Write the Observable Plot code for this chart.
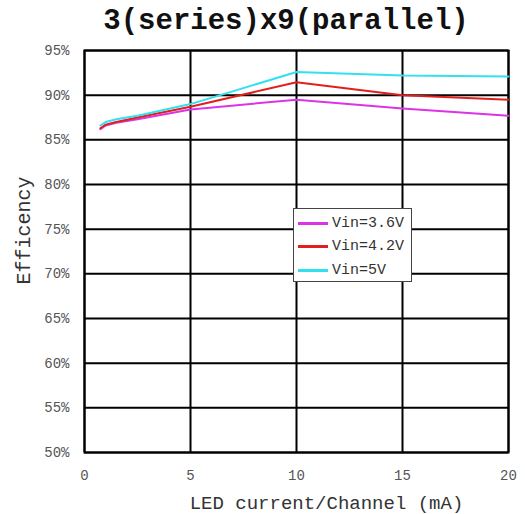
<!DOCTYPE html>
<html>
<head>
<meta charset="utf-8">
<script src="https://cdn.jsdelivr.net/npm/d3@7"></script>
<script src="https://cdn.jsdelivr.net/npm/@observablehq/plot@0.6"></script>
<style>
  html, body { margin: 0; padding: 0; background: #fff; }
  #wrap { position: relative; width: 525px; height: 514px; font-family: "Liberation Mono", "DejaVu Sans Mono", monospace; }
  #title { height: 40px; padding-top: 3px; line-height: 37px; font-size: 29px; font-weight: bold; color: #111; text-align: center; padding-left: 47px; box-sizing: border-box; width: 525px; white-space: nowrap; }
  #legend { position: absolute; left: 293px; top: 208px; width: 119px; height: 74px; border: 1.5px solid #444; background: #fff; box-sizing: border-box; }
  .item { position: absolute; left: 4px; height: 16px; display: flex; align-items: center; font-size: 15px; color: #333; white-space: nowrap; }
  .sw { width: 30px; height: 3px; margin-right: 4px; }
</style>
</head>
<body>
<div id="wrap">
  <div id="title">3(series)x9(parallel)</div>
  <div id="chart"></div>
  <div id="legend"></div>
</div>
<script>
const current = [0.75, 1, 1.5, 2.5, 5, 10, 15, 20];
const vin36 = [86.2, 86.6, 86.9, 87.3, 88.4, 89.5, 88.5, 87.7];
const vin42 = [86.3, 86.7, 87.0, 87.5, 88.7, 91.45, 90.0, 89.5];
const vin50 = [86.6, 87.0, 87.3, 87.7, 89.0, 92.6, 92.2, 92.1];
const seriesNames = ["Vin=3.6V", "Vin=4.2V", "Vin=5V"];
const seriesColors = ["#dd33e6", "#e0201c", "#33e0ee"];
const xTicks = [0, 5, 10, 15, 20];
const yTicks = [50, 55, 60, 65, 70, 75, 80, 85, 90, 95];

const seriesValues = [vin36, vin42, vin50];
const data = [];
seriesNames.forEach((name, i) => {
  current.forEach((c, j) => data.push({series: name, x: c, y: seriesValues[i][j]}));
});

const font = "Liberation Mono, DejaVu Sans Mono, monospace";

const chart = Plot.plot({
  width: 525,
  height: 474,
  marginLeft: 84,
  marginRight: 17,
  marginTop: 10,
  marginBottom: 62,
  style: {fontFamily: font, background: "#fff", overflow: "visible"},
  x: {domain: [0, 20], ticks: xTicks},
  y: {domain: [50, 95], ticks: yTicks},
  color: {domain: seriesNames, range: seriesColors},
  marks: [
    Plot.gridX(xTicks, {stroke: "#000", strokeOpacity: 1, strokeWidth: 2}),
    Plot.gridY(yTicks, {stroke: "#000", strokeOpacity: 1, strokeWidth: 2}),
    Plot.frame({stroke: "#000", strokeWidth: 2}),
    Plot.axisX(xTicks, {tickSize: 0, tickPadding: 18, fontSize: 14, fill: "#555", label: null}),
    Plot.axisY(yTicks, {tickSize: 0, tickPadding: 15, fontSize: 14, fill: "#555", tickFormat: d => d + "%", label: null}),
    Plot.line(data, {x: "x", y: "y", z: "series", stroke: "series", strokeWidth: 2}),
    Plot.text(["Efficency"], {frameAnchor: "left", textAnchor: "middle", lineAnchor: "middle", dx: -61, dy: -21, rotate: -90, fontSize: 20, fill: "#333"}),
    Plot.text(["LED current/Channel (mA)"], {frameAnchor: "bottom", textAnchor: "middle", lineAnchor: "middle", dx: 30, dy: 50, fontSize: 19, fill: "#333"})
  ]
});
document.getElementById("chart").appendChild(chart);

const legend = document.getElementById("legend");
const tops = [6, 29, 53];
seriesNames.forEach((name, i) => {
  const item = document.createElement("div");
  item.className = "item";
  item.style.top = tops[i] + "px";
  const sw = document.createElement("div");
  sw.className = "sw";
  sw.style.background = seriesColors[i];
  const t = document.createElement("span");
  t.textContent = name;
  item.appendChild(sw);
  item.appendChild(t);
  legend.appendChild(item);
});
</script>
</body>
</html>
